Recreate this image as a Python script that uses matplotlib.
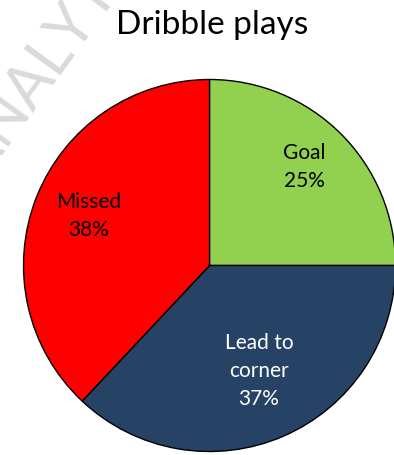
import matplotlib.pyplot as plt

labels = ["Goal", "Lead to\ncorner", "Missed"]
shares = [25, 37, 38]
colors = ["#92D050", "#264264", "#FF0000"]
text_colors = ["black", "white", "black"]

W, H = 394, 456
fig = plt.figure(figsize=(W / 100, H / 100), dpi=100)

# pie centre (209.5, 266.5) px from top-left, radius 186 px
cx, cy, r = 209.5, 266.5, 186
ax = fig.add_axes([(cx - r) / W, (H - cy - r) / H, 2 * r / W, 2 * r / H])

wedges, texts = ax.pie(shares, colors=colors, startangle=90, counterclock=False,
                       radius=1, center=(0, 0), frame=False,
                       wedgeprops=dict(edgecolor="black", linewidth=1.0))
for w in wedges:
    w.set_clip_on(False)
ax.set_xlim(-1, 1)
ax.set_ylim(-1, 1)
ax.axis("off")

# labels: name + percent, placed like the original
pos = [(0.51, 0.535), (0.266, -0.56), (-0.65, 0.27)]
for lab, s, (x, y), tc in zip(labels, shares, pos, text_colors):
    ax.text(x, y, f"{lab}\n{s}%", ha="center", va="center", color=tc,
            fontsize=15, family="Lato", linespacing=1.5)

fig.text(212 / W, 1 - 25 / H, "Dribble plays", ha="center", va="center",
         fontsize=24, family="Lato")

# faint watermark in the corner
fig.text(-0.14, 1 - 190 / H, "ANALYTICS", rotation=54, color="#dadada",
         fontsize=44, family="Lato", ha="left", va="bottom", zorder=-1)

fig.savefig("out.png", dpi=100)
